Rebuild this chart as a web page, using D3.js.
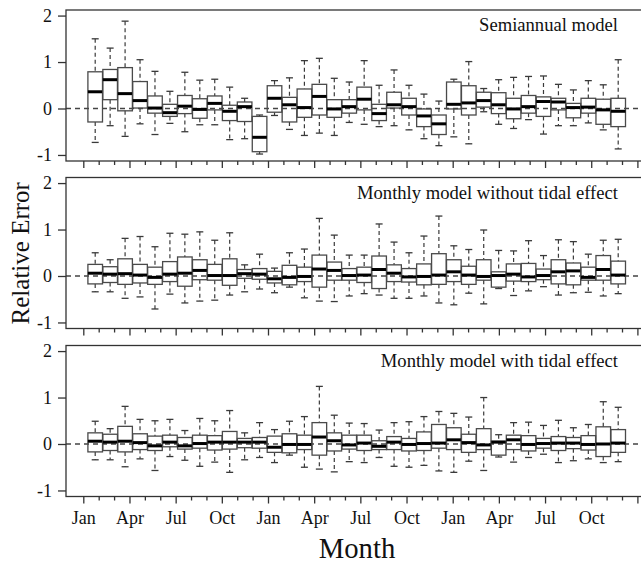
<!DOCTYPE html>
<html>
<head>
<meta charset="utf-8">
<script src="https://cdn.jsdelivr.net/npm/d3@7"></script>
<style>
  html, body { margin: 0; padding: 0; background: #fff; }
  svg { display: block; }
  text { font-family: "Liberation Serif", "Times New Roman", serif; fill: #111; }
</style>
</head>
<body>
<svg id="chart" width="641" height="564"></svg>
<script>
// Month labels for the major ticks (every third month over three years)
const tickLabels = ["Jan", "Apr", "Jul", "Oct", "Jan", "Apr", "Jul", "Oct", "Jan", "Apr", "Jul", "Oct"];
const panelTitles = ["Semiannual model", "Monthly model without tidal effect", "Monthly model with tidal effect"];
const yTicks = [-1, 0, 1, 2];

// Semiannual model: whisker low, Q1, median, Q3, whisker high (36 months)
const semiLo  = [-0.73,-0.37,-0.60,-0.33,-0.56,-0.32,-0.50,-0.35,-0.35,-0.67,-0.65,-0.98,-0.15,-0.45,-0.58,-0.53,-0.58,-0.30,-0.34,-0.39,-0.37,-0.46,-0.65,-0.80,-0.61,-0.76,-0.07,-0.34,-0.43,-0.24,-0.55,-0.37,-0.37,-0.31,-0.46,-0.87];
const semiQ1  = [-0.29,0.19,-0.05,0.01,-0.10,-0.17,-0.11,-0.21,-0.03,-0.26,-0.28,-0.93,-0.08,-0.29,-0.19,-0.14,-0.19,-0.10,-0.03,-0.26,0.01,-0.14,-0.39,-0.56,-0.01,-0.14,0.03,-0.11,-0.22,-0.10,-0.17,-0.03,-0.20,-0.10,-0.34,-0.39];
const semiMed = [0.36,0.62,0.32,0.17,0.01,-0.09,0.05,-0.02,0.11,-0.06,0.04,-0.62,0.22,0.08,0.02,0.26,-0.01,0.04,0.20,-0.11,0.08,0.04,-0.16,-0.33,0.09,0.12,0.17,0.08,-0.01,0.04,0.15,0.14,0.02,0.03,-0.03,-0.06];
const semiQ3  = [0.79,0.84,0.88,0.58,0.27,0.09,0.28,0.21,0.27,0.07,0.14,-0.17,0.49,0.24,0.42,0.52,0.19,0.19,0.46,0.09,0.35,0.22,-0.01,-0.14,0.57,0.49,0.35,0.34,0.22,0.28,0.25,0.22,0.11,0.22,0.20,0.22];
const semiHi  = [1.50,1.30,1.88,1.05,0.80,0.37,0.78,0.61,0.63,0.46,0.22,-0.14,0.60,0.66,1.03,1.08,0.65,0.57,1.03,0.50,0.83,0.50,0.31,0.16,0.63,1.01,0.43,0.62,0.67,0.69,0.70,0.52,0.40,0.60,0.51,1.05];

// Monthly model without tidal effect
const noTideLo  = [-0.34,-0.34,-0.48,-0.45,-0.71,-0.39,-0.58,-0.54,-0.52,-0.41,-0.34,-0.28,-0.36,-0.24,-0.47,-0.54,-0.55,-0.43,-0.38,-0.41,-0.48,-0.48,-0.43,-0.58,-0.62,-0.37,-0.60,-0.27,-0.42,-0.32,-0.23,-0.41,-0.36,-0.35,-0.43,-0.38];
const noTideQ1  = [-0.17,-0.14,-0.18,-0.15,-0.18,-0.12,-0.22,-0.08,-0.09,-0.20,-0.05,-0.07,-0.15,-0.19,-0.12,-0.24,-0.09,-0.09,-0.14,-0.27,-0.12,-0.13,-0.19,-0.18,-0.12,-0.18,-0.09,-0.24,-0.11,-0.12,-0.08,-0.17,-0.19,-0.09,-0.09,-0.17];
const noTideMed = [0.06,0.04,0.05,0.02,-0.03,0.04,0.06,0.12,0.01,0.01,0.05,0.04,-0.06,-0.03,-0.01,0.15,0.12,0.01,0.02,0.14,0.06,-0.02,-0.01,0.02,0.09,0.02,-0.01,0.01,0.04,-0.02,0.01,0.09,0.11,-0.03,0.14,0.02];
const noTideQ3  = [0.25,0.20,0.37,0.25,0.19,0.31,0.41,0.35,0.25,0.37,0.14,0.16,0.10,0.23,0.19,0.45,0.30,0.16,0.19,0.43,0.24,0.16,0.26,0.48,0.35,0.21,0.35,0.09,0.26,0.27,0.15,0.35,0.28,0.19,0.44,0.32];
const noTideHi  = [0.50,0.35,0.81,0.85,0.63,0.92,0.90,0.95,0.77,0.93,0.24,0.47,0.17,0.50,0.58,1.24,0.88,0.45,0.45,1.12,0.73,0.50,0.86,1.29,0.65,0.57,0.99,0.55,0.54,0.76,0.44,0.78,0.74,0.47,0.77,0.79];

// Monthly model with tidal effect
const tideLo  = [-0.34,-0.34,-0.49,-0.32,-0.57,-0.27,-0.35,-0.48,-0.39,-0.61,-0.34,-0.29,-0.40,-0.24,-0.50,-0.54,-0.60,-0.38,-0.40,-0.29,-0.48,-0.50,-0.46,-0.58,-0.61,-0.37,-0.57,-0.28,-0.39,-0.29,-0.22,-0.40,-0.36,-0.32,-0.40,-0.38];
const tideQ1  = [-0.17,-0.14,-0.17,-0.12,-0.14,-0.06,-0.11,-0.09,-0.13,-0.11,-0.08,-0.09,-0.18,-0.19,-0.12,-0.24,-0.15,-0.11,-0.14,-0.12,-0.12,-0.15,-0.14,-0.09,-0.12,-0.18,-0.12,-0.24,-0.12,-0.15,-0.09,-0.14,-0.10,-0.13,-0.27,-0.18];
const tideMed = [0.06,0.04,0.06,0.03,-0.04,0.04,-0.04,0.01,0.04,0.04,0.04,0.04,-0.07,-0.01,-0.01,0.15,0.07,-0.02,0.02,-0.05,0.04,-0.01,0.01,0.02,0.09,0.03,-0.02,0.04,0.09,-0.01,0.01,0.02,0.02,-0.01,0.00,0.02];
const tideQ3  = [0.24,0.21,0.38,0.22,0.17,0.19,0.14,0.19,0.18,0.27,0.12,0.14,0.17,0.22,0.19,0.46,0.24,0.19,0.19,0.07,0.16,0.12,0.26,0.42,0.35,0.21,0.33,0.06,0.19,0.18,0.12,0.16,0.14,0.18,0.37,0.31];
const tideHi  = [0.49,0.33,0.81,0.53,0.50,0.53,0.29,0.55,0.50,0.72,0.24,0.46,0.31,0.49,0.59,1.24,0.62,0.45,0.44,0.30,0.46,0.48,0.59,0.70,0.66,0.58,1.00,0.20,0.46,0.47,0.40,0.51,0.35,0.42,0.91,0.79];

const panels = [
  { title: panelTitles[0], lo: semiLo,   q1: semiQ1,   med: semiMed,   q3: semiQ3,   hi: semiHi },
  { title: panelTitles[1], lo: noTideLo, q1: noTideQ1, med: noTideMed, q3: noTideQ3, hi: noTideHi },
  { title: panelTitles[2], lo: tideLo,   q1: tideQ1,   med: tideMed,   q3: tideQ3,   hi: tideHi }
];

const svg = d3.select("#chart");
const left = 66, right = 648;
const panelTops = [10, 177.5, 345.5];
const panelH = 151;
const nBoxes = 36;

// Box centres and month ticks use slightly different spacings
const xBox = d3.scaleLinear().domain([0, nBoxes - 1]).range([95.2, 618.2]);
const xTick = d3.scaleLinear().domain([0, 36]).range([83.3, 637.4]);
const boxW = 14.6, capW = 7;
const stroke = "#3a3a3a";

panels.forEach((p, pi) => {
  const top = panelTops[pi];
  const y = d3.scaleLinear().domain([-1.13, 2.12]).range([top + panelH, top]);
  const g = svg.append("g");

  // zero reference line
  g.append("line")
    .attr("x1", left).attr("x2", right)
    .attr("y1", y(0)).attr("y2", y(0))
    .attr("stroke", "#444").attr("stroke-width", 1.3)
    .attr("stroke-dasharray", "5,4");

  const boxes = d3.range(nBoxes).map(i => ({
    i, lo: p.lo[i], q1: p.q1[i], med: p.med[i], q3: p.q3[i], hi: p.hi[i]
  }));

  const bg = g.selectAll("g.box").data(boxes).join("g").attr("class", "box");

  // whiskers (dashed)
  bg.append("line")
    .attr("x1", d => xBox(d.i)).attr("x2", d => xBox(d.i))
    .attr("y1", d => y(d.hi)).attr("y2", d => y(d.q3))
    .attr("stroke", stroke).attr("stroke-width", 1.2).attr("stroke-dasharray", "4,3");
  bg.append("line")
    .attr("x1", d => xBox(d.i)).attr("x2", d => xBox(d.i))
    .attr("y1", d => y(d.q1)).attr("y2", d => y(d.lo))
    .attr("stroke", stroke).attr("stroke-width", 1.2).attr("stroke-dasharray", "4,3");
  // whisker caps
  ["hi", "lo"].forEach(k => {
    bg.append("line")
      .attr("x1", d => xBox(d.i) - capW / 2).attr("x2", d => xBox(d.i) + capW / 2)
      .attr("y1", d => y(d[k])).attr("y2", d => y(d[k]))
      .attr("stroke", stroke).attr("stroke-width", 1.3);
  });
  // boxes
  bg.append("rect")
    .attr("x", d => xBox(d.i) - boxW / 2).attr("width", boxW)
    .attr("y", d => y(d.q3)).attr("height", d => Math.max(0.5, y(d.q1) - y(d.q3)))
    .attr("fill", "none").attr("stroke", "#4a4a4a").attr("stroke-width", 1.3);
  // medians
  bg.append("line")
    .attr("x1", d => xBox(d.i) - boxW / 2).attr("x2", d => xBox(d.i) + boxW / 2)
    .attr("y1", d => y(d.med)).attr("y2", d => y(d.med))
    .attr("stroke", "#000").attr("stroke-width", 3);

  // panel frame
  g.append("rect")
    .attr("x", left).attr("y", top).attr("width", right - left).attr("height", panelH)
    .attr("fill", "none").attr("stroke", "#333").attr("stroke-width", 1.3);

  // y axis (plain hyphen for negative labels)
  const ya = g.append("g").attr("transform", `translate(${left},0)`)
    .call(d3.axisLeft(y).tickValues(yTicks).tickSize(8).tickPadding(6).tickFormat(d => String(d)));
  ya.attr("font-family", null).attr("font-size", null);
  ya.select(".domain").remove();
  ya.selectAll("line").attr("stroke", "#333").attr("stroke-width", 1.3);
  ya.selectAll("text").style("font-size", "18px").attr("fill", "#111");

  // x axis: minor ticks every month, major every quarter
  const xg = g.append("g").attr("transform", `translate(0,${top + panelH})`);
  const minor = d3.range(0, 37).filter(k => k % 3 !== 0);
  const major = d3.range(0, 37).filter(k => k % 3 === 0);
  xg.append("g").call(d3.axisBottom(xTick).tickValues(minor).tickSize(4).tickFormat(""))
    .call(a => a.select(".domain").remove())
    .call(a => a.selectAll("line").attr("stroke", "#333").attr("stroke-width", 1.3));
  const mj = xg.append("g").call(d3.axisBottom(xTick).tickValues(major).tickSize(7).tickPadding(8)
      .tickFormat(k => pi === panels.length - 1 ? (tickLabels[k / 3] || "") : ""))
    .call(a => a.select(".domain").remove())
    .call(a => a.selectAll("line").attr("stroke", "#333").attr("stroke-width", 1.3));
  mj.attr("font-family", null).attr("font-size", null);
  mj.selectAll("text").style("font-size", "18px").attr("fill", "#111");

  // panel title
  g.append("text")
    .attr("x", 618).attr("y", top + 21)
    .attr("text-anchor", "end")
    .style("font-size", "18.6px")
    .text(p.title);
});

// axis titles
svg.append("text")
  .attr("transform", `translate(29,${(panelTops[0] + panelTops[2] + panelH) / 2}) rotate(-90)`)
  .attr("text-anchor", "middle")
  .style("font-size", "25px")
  .text("Relative Error");

svg.append("text")
  .attr("x", 357).attr("y", 558)
  .attr("text-anchor", "middle")
  .style("font-size", "28.7px")
  .text("Month");
</script>
</body>
</html>
